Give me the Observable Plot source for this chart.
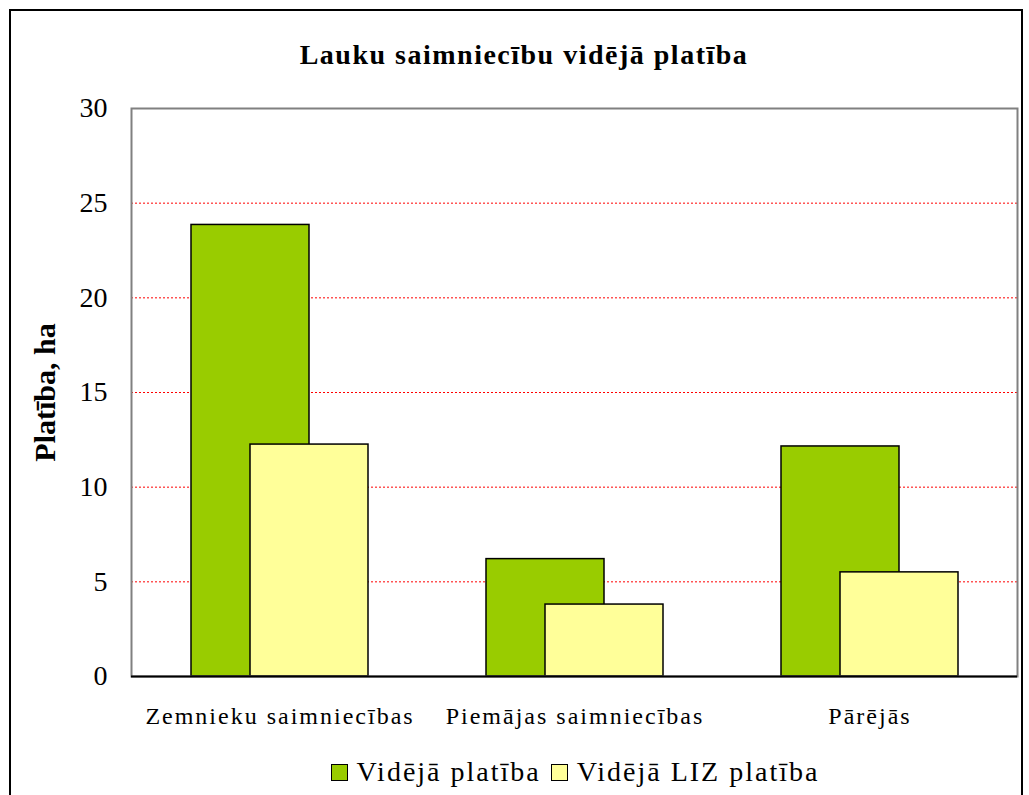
<!DOCTYPE html>
<html>
<head>
<meta charset="utf-8">
<script src="https://cdn.jsdelivr.net/npm/d3@7"></script>
<script src="https://cdn.jsdelivr.net/npm/@observablehq/plot@0.6"></script>
<style>
  html, body { margin: 0; padding: 0; background: #fff; overflow: hidden; }
  body { width: 1029px; height: 795px; position: relative; font-family: "Liberation Serif", "Times New Roman", serif; }
  #frame { position: absolute; left: 9px; top: 9px; width: 1014px; height: 820px; border: 2.5px solid #000; box-sizing: border-box; }
  #title { position: absolute; left: 0; width: 1048px; top: 41px; text-align: center; font-size: 28px; line-height: 28px; font-weight: bold; letter-spacing: 1.5px; color: #000; }
  #chart { position: absolute; left: 0; top: 0; }
  #legend { position: absolute; left: 0; width: 1150px; top: 758px; display: flex; justify-content: center; align-items: center; font-size: 28px; line-height: 28px; letter-spacing: 2px; }
  .item { display: flex; align-items: center; margin: 0 5px; }
  .sw { width: 15px; height: 15px; border: 1.5px solid #000; margin-right: 9px; }
</style>
</head>
<body>
<div id="frame"></div>
<div id="title"></div>
<div id="chart"></div>
<div id="legend"></div>
<script>
const titleText = "Lauku saimniecību vidējā platība";
const yLabel = "Platība, ha";
const categories = ["Zemnieku saimniecības", "Piemājas saimniecības", "Pārējās"];
const avgArea = [23.85, 6.2, 12.15];
const avgLizArea = [12.25, 3.8, 5.5];
const seriesNames = ["Vidējā platība", "Vidējā LIZ platība"];
const seriesColors = ["#99cc00", "#ffff99"];
const yTicks = [0, 5, 10, 15, 20, 25, 30];
const gridValues = [5, 10, 15, 20, 25];

const rows = categories.map((c, i) => ({category: c, avg: avgArea[i], liz: avgLizArea[i]}));

document.getElementById("title").textContent = titleText;

const chart = Plot.plot({
  width: 1029,
  height: 745,
  marginLeft: 131,
  marginRight: 12,
  marginTop: 108,
  marginBottom: 69,
  style: {fontFamily: "'Liberation Serif', 'Times New Roman', serif", background: "transparent", overflow: "visible"},
  x: {type: "band", domain: categories, padding: 0, axis: null},
  y: {domain: [0, 30], axis: null},
  marks: [
    Plot.ruleY(gridValues, {stroke: "#ff0000", strokeDasharray: "2,2", strokeWidth: 1}),
    Plot.barY(rows, {x: "category", y: "avg", fill: seriesColors[0], stroke: "#000", strokeWidth: 1.5, insetLeft: 59, insetRight: 118}),
    Plot.barY(rows, {x: "category", y: "liz", fill: seriesColors[1], stroke: "#000", strokeWidth: 1.5, insetLeft: 118, insetRight: 59}),
    Plot.frame({stroke: "#808080", strokeWidth: 2}),
    Plot.ruleY([0], {stroke: "#000", strokeWidth: 2}),
    Plot.text(yTicks, {y: d => d, text: d => String(d), frameAnchor: "left", textAnchor: "end", dx: -24, fontSize: 28, fill: "#000"}),
    Plot.text(categories, {x: d => d, text: d => d, frameAnchor: "bottom", lineAnchor: "middle", dy: 40, fontSize: 24, fill: "#000"}),
    Plot.text([yLabel], {frameAnchor: "left", textAnchor: "middle", dx: -86, rotate: -90, fontSize: 30, fontWeight: "bold", text: d => d, fill: "#000"})
  ]
});
d3.select(chart).selectAll("text")
  .filter(function() { return categories.includes(this.textContent); })
  .style("letter-spacing", "2px");
document.getElementById("chart").appendChild(chart);

const legend = document.getElementById("legend");
seriesNames.forEach((name, i) => {
  const item = document.createElement("div");
  item.className = "item";
  const sw = document.createElement("div");
  sw.className = "sw";
  sw.style.background = seriesColors[i];
  const label = document.createElement("span");
  label.textContent = name;
  item.appendChild(sw);
  item.appendChild(label);
  legend.appendChild(item);
});
</script>
</body>
</html>
